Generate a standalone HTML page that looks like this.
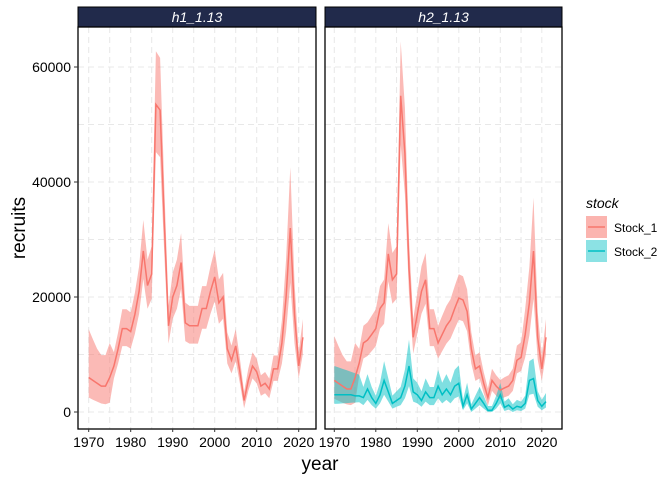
<!DOCTYPE html>
<html><head><meta charset="utf-8"><style>
body{margin:0;background:#fff;}
svg{display:block;font-family:"Liberation Sans",sans-serif;}
</style></head><body>
<svg id="s" width="672" height="480" xmlns="http://www.w3.org/2000/svg">
<rect width="672" height="480" fill="#fff"/>
<g id="g"></g>
<text x="25" y="228" font-size="19" text-anchor="middle" transform="rotate(-90 25 228)">recruits</text>
<text x="320" y="470" font-size="19" text-anchor="middle">year</text>
<text x="586" y="208" font-size="14" font-style="italic">stock</text>
<rect x="586" y="216" width="21" height="22" fill="#F8766D" fill-opacity="0.55"/>
<line x1="588" y1="227" x2="605" y2="227" stroke="#F8766D" stroke-width="1.5"/>
<rect x="586" y="240" width="21" height="22" fill="#00BFC4" fill-opacity="0.45"/>
<line x1="588" y1="251" x2="605" y2="251" stroke="#00BFC4" stroke-width="1.5"/>
<text x="614" y="232" font-size="12">Stock_1</text>
<text x="614" y="256" font-size="12">Stock_2</text>
</svg>
<script>
const g=document.getElementById('g');let h='';
const Y=v=>412-v*0.00575;
const s1a=[6000,5500,5000,4500,4500,6000,8000,11000,14500,14500,14000,17000,21000,28000,22000,24000,53500,52500,33000,15000,20000,22000,26000,15500,15000,15000,15000,18000,18000,21000,23500,19000,20000,11000,9000,11500,7000,2000,5500,8000,7000,4500,5000,4000,7500,7500,12000,20000,32000,17000,8000,13000];
const s1b=[5500,5000,4500,4000,4000,6000,8500,12000,12500,13500,14500,18000,19000,27500,23000,24000,55000,45000,25000,13000,17000,21000,23000,14500,14500,12000,13500,15000,16000,18000,19800,19500,17500,11000,7500,8000,5000,2500,5500,4500,3800,4200,4500,5500,9000,9500,13500,19000,28000,13000,7500,13000];
const s2=[3000,3000,3000,3000,3000,2800,2800,2500,4000,2500,1500,3000,5500,3500,1500,2000,2500,4500,8000,3500,3000,2000,3500,2500,2500,4500,3000,4000,3000,4500,5000,1000,3000,500,1500,2500,1500,300,300,1500,3000,800,1200,500,1000,800,1500,5500,5800,2000,1000,1800];
function band(arr){const lo=[],hi=[];arr.forEach((v,i)=>{
 if(i<6){const f=[2.4,2.3,2.2,2.2,2.2,2.0][i];hi.push(v*f);lo.push(v*(0.42-i*0.03));return;}
 let w=0.15*v+1200;if(i>=46&&i<=49)w=0.33*v;lo.push(Math.max(0,v-w*0.9));hi.push(v+w);});return[lo,hi];}
function band2(arr){const lo=[],hi=[];arr.forEach((v,i)=>{if(i<7){lo.push(1400+i*50);hi.push(8000-i*250);}else{lo.push(Math.max(0,v*0.6-300));hi.push(v*1.5+600);}});return[lo,hi];}
function panel(x0,x1,X,series){
 h+=`<rect x="${x0}" y="7" width="${x1-x0}" height="20" fill="#212A4B" stroke="#000" stroke-width="1"/>`;
 h+=`<text x="${(x0+x1)/2}" y="22" font-size="14" font-style="italic" fill="#fff" text-anchor="middle">${series.t}</text>`;
 for(let v=0;v<=65000;v+=10000){h+=`<line x1="${x0}" x2="${x1}" y1="${Y(v)}" y2="${Y(v)}" stroke="#e8e8e8" stroke-dasharray="6,4"/>`;}
 for(let yr=1970;yr<=2020;yr+=5){h+=`<line y1="27" y2="429" x1="${X(yr)}" x2="${X(yr)}" stroke="#e8e8e8" stroke-dasharray="6,4"/>`;}
 series.d.forEach(([arr,col,b])=>{
  const [lo,hi]=b;let p='M';
  hi.forEach((v,i)=>p+=`${X(1970+i).toFixed(1)},${Y(v).toFixed(1)} L`);
  for(let i=lo.length-1;i>=0;i--)p+=`${X(1970+i).toFixed(1)},${Y(lo[i]).toFixed(1)} ${i?'L':'Z'}`;
  h+=`<path d="${p}" fill="${col}" fill-opacity="0.5"/>`;
 });
 series.d.forEach(([arr,col])=>{h+=`<polyline fill="none" stroke="${col}" stroke-width="1.5" points="${arr.map((v,i)=>X(1970+i).toFixed(1)+','+Y(v).toFixed(1)).join(' ')}"/>`;});
 h+=`<rect x="${x0}" y="27" width="${x1-x0}" height="402" fill="none" stroke="#000" stroke-width="1.3"/>`;
 for(let yr=1970;yr<=2020;yr+=10){h+=`<line x1="${X(yr)}" x2="${X(yr)}" y1="429" y2="432" stroke="#333"/><text x="${X(yr)}" y="447" font-size="14" text-anchor="middle">${yr}</text>`;}
}
const XL=yr=>88.7+(yr-1970)*4.2, XR=yr=>334.3+(yr-1970)*4.15;
panel(78,316,XL,{t:'h1_1.13',d:[[s1a,'#F8766D',band(s1a)]]});
panel(325,562,XR,{t:'h2_1.13',d:[[s1b,'#F8766D',band(s1b)],[s2,'#00BFC4',band2(s2)]]});
[0,20000,40000,60000].forEach(v=>{h+=`<text x="71" y="${Y(v)+5}" font-size="14" text-anchor="end">${v}</text><line x1="74" x2="78" y1="${Y(v)}" y2="${Y(v)}" stroke="#333"/>`;});
g.innerHTML=h;
</script>
</body></html>
